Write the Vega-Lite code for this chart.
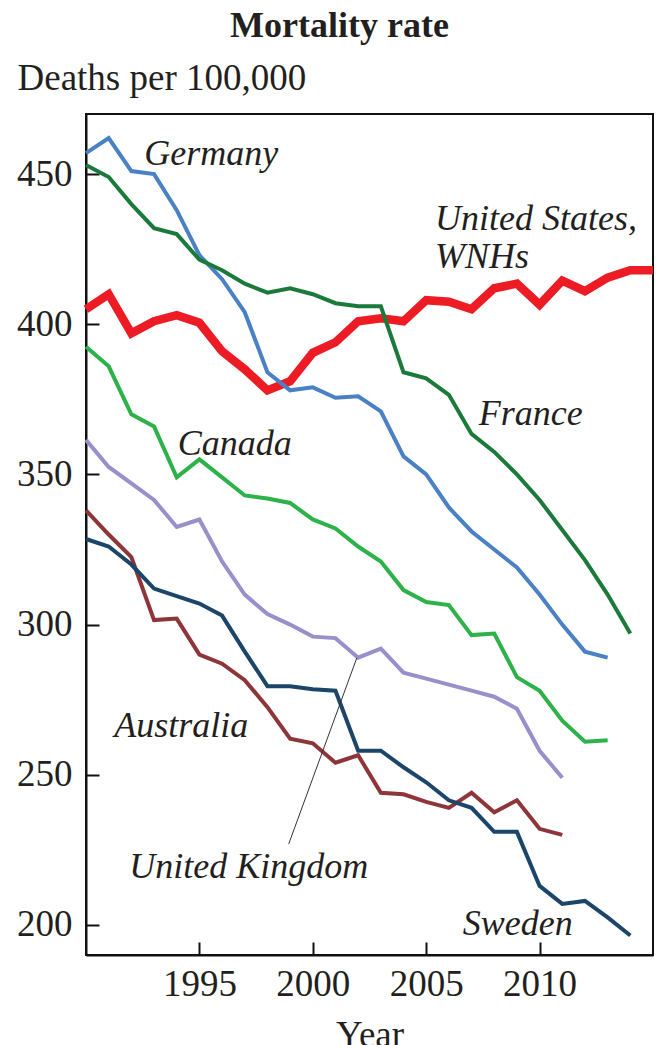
{
  "$schema": "https://vega.github.io/schema/vega-lite/v6.json",
  "width": 567,
  "height": 841,
  "autosize": {"type": "none"},
  "padding": {"left": 86, "top": 114, "right": 5, "bottom": 90},
  "background": "white",
  "config": {
    "view": {"stroke": "#111111", "strokeWidth": 2},
    "font": "Liberation Serif"
  },
  "title": {
    "text": "Mortality rate",
    "font": "Liberation Serif",
    "fontSize": 36,
    "fontWeight": "bold",
    "color": "#231f20",
    "anchor": "middle",
    "frame": "group",
    "baseline": "alphabetic",
    "offset": -14,
    "dx": -30
  },
  "datasets": {
    "series": [
      {"country": "United States", "year": 1990, "value": 405},
      {"country": "United States", "year": 1991, "value": 410},
      {"country": "United States", "year": 1992, "value": 397},
      {"country": "United States", "year": 1993, "value": 401},
      {"country": "United States", "year": 1994, "value": 403},
      {"country": "United States", "year": 1995, "value": 400.5},
      {"country": "United States", "year": 1996, "value": 391},
      {"country": "United States", "year": 1997, "value": 385},
      {"country": "United States", "year": 1998, "value": 378},
      {"country": "United States", "year": 1999, "value": 381},
      {"country": "United States", "year": 2000, "value": 390.5},
      {"country": "United States", "year": 2001, "value": 394},
      {"country": "United States", "year": 2002, "value": 401},
      {"country": "United States", "year": 2003, "value": 402},
      {"country": "United States", "year": 2004, "value": 401},
      {"country": "United States", "year": 2005, "value": 408},
      {"country": "United States", "year": 2006, "value": 407.5},
      {"country": "United States", "year": 2007, "value": 405},
      {"country": "United States", "year": 2008, "value": 412},
      {"country": "United States", "year": 2009, "value": 413.5},
      {"country": "United States", "year": 2010, "value": 406.5},
      {"country": "United States", "year": 2011, "value": 414.5},
      {"country": "United States", "year": 2012, "value": 411},
      {"country": "United States", "year": 2013, "value": 415.5},
      {"country": "United States", "year": 2014, "value": 418},
      {"country": "United States", "year": 2015, "value": 418},
      {"country": "Germany", "year": 1990, "value": 457},
      {"country": "Germany", "year": 1991, "value": 462},
      {"country": "Germany", "year": 1992, "value": 451},
      {"country": "Germany", "year": 1993, "value": 450},
      {"country": "Germany", "year": 1994, "value": 438},
      {"country": "Germany", "year": 1995, "value": 423},
      {"country": "Germany", "year": 1996, "value": 415},
      {"country": "Germany", "year": 1997, "value": 404},
      {"country": "Germany", "year": 1998, "value": 384},
      {"country": "Germany", "year": 1999, "value": 378},
      {"country": "Germany", "year": 2000, "value": 379},
      {"country": "Germany", "year": 2001, "value": 375.5},
      {"country": "Germany", "year": 2002, "value": 376},
      {"country": "Germany", "year": 2003, "value": 371},
      {"country": "Germany", "year": 2004, "value": 356},
      {"country": "Germany", "year": 2005, "value": 350},
      {"country": "Germany", "year": 2006, "value": 339},
      {"country": "Germany", "year": 2007, "value": 331},
      {"country": "Germany", "year": 2008, "value": 325},
      {"country": "Germany", "year": 2009, "value": 319},
      {"country": "Germany", "year": 2010, "value": 310},
      {"country": "Germany", "year": 2011, "value": 300},
      {"country": "Germany", "year": 2012, "value": 291},
      {"country": "Germany", "year": 2013, "value": 289},
      {"country": "France", "year": 1990, "value": 453},
      {"country": "France", "year": 1991, "value": 449},
      {"country": "France", "year": 1992, "value": 440},
      {"country": "France", "year": 1993, "value": 432},
      {"country": "France", "year": 1994, "value": 430},
      {"country": "France", "year": 1995, "value": 421.5},
      {"country": "France", "year": 1996, "value": 418},
      {"country": "France", "year": 1997, "value": 413.5},
      {"country": "France", "year": 1998, "value": 410.5},
      {"country": "France", "year": 1999, "value": 412},
      {"country": "France", "year": 2000, "value": 410},
      {"country": "France", "year": 2001, "value": 407},
      {"country": "France", "year": 2002, "value": 406},
      {"country": "France", "year": 2003, "value": 406},
      {"country": "France", "year": 2004, "value": 384},
      {"country": "France", "year": 2005, "value": 382},
      {"country": "France", "year": 2006, "value": 376.5},
      {"country": "France", "year": 2007, "value": 363.5},
      {"country": "France", "year": 2008, "value": 357.5},
      {"country": "France", "year": 2009, "value": 350},
      {"country": "France", "year": 2010, "value": 341.5},
      {"country": "France", "year": 2011, "value": 331.5},
      {"country": "France", "year": 2012, "value": 321.5},
      {"country": "France", "year": 2013, "value": 310},
      {"country": "France", "year": 2014, "value": 297},
      {"country": "Canada", "year": 1990, "value": 392.5},
      {"country": "Canada", "year": 1991, "value": 386},
      {"country": "Canada", "year": 1992, "value": 370},
      {"country": "Canada", "year": 1993, "value": 366},
      {"country": "Canada", "year": 1994, "value": 349},
      {"country": "Canada", "year": 1995, "value": 355},
      {"country": "Canada", "year": 1996, "value": 349},
      {"country": "Canada", "year": 1997, "value": 343},
      {"country": "Canada", "year": 1998, "value": 342},
      {"country": "Canada", "year": 1999, "value": 340.5},
      {"country": "Canada", "year": 2000, "value": 335},
      {"country": "Canada", "year": 2001, "value": 332},
      {"country": "Canada", "year": 2002, "value": 326},
      {"country": "Canada", "year": 2003, "value": 321},
      {"country": "Canada", "year": 2004, "value": 311.5},
      {"country": "Canada", "year": 2005, "value": 307.5},
      {"country": "Canada", "year": 2006, "value": 306.5},
      {"country": "Canada", "year": 2007, "value": 296.5},
      {"country": "Canada", "year": 2008, "value": 297},
      {"country": "Canada", "year": 2009, "value": 282.5},
      {"country": "Canada", "year": 2010, "value": 278},
      {"country": "Canada", "year": 2011, "value": 268},
      {"country": "Canada", "year": 2012, "value": 261},
      {"country": "Canada", "year": 2013, "value": 261.5},
      {"country": "United Kingdom", "year": 1990, "value": 361.5},
      {"country": "United Kingdom", "year": 1991, "value": 352.5},
      {"country": "United Kingdom", "year": 1992, "value": 347},
      {"country": "United Kingdom", "year": 1993, "value": 341.5},
      {"country": "United Kingdom", "year": 1994, "value": 332.5},
      {"country": "United Kingdom", "year": 1995, "value": 335},
      {"country": "United Kingdom", "year": 1996, "value": 321},
      {"country": "United Kingdom", "year": 1997, "value": 310},
      {"country": "United Kingdom", "year": 1998, "value": 303.5},
      {"country": "United Kingdom", "year": 1999, "value": 300},
      {"country": "United Kingdom", "year": 2000, "value": 296},
      {"country": "United Kingdom", "year": 2001, "value": 295.5},
      {"country": "United Kingdom", "year": 2002, "value": 289},
      {"country": "United Kingdom", "year": 2003, "value": 292},
      {"country": "United Kingdom", "year": 2004, "value": 284},
      {"country": "United Kingdom", "year": 2005, "value": 282},
      {"country": "United Kingdom", "year": 2006, "value": 280},
      {"country": "United Kingdom", "year": 2007, "value": 278},
      {"country": "United Kingdom", "year": 2008, "value": 276},
      {"country": "United Kingdom", "year": 2009, "value": 272},
      {"country": "United Kingdom", "year": 2010, "value": 258},
      {"country": "United Kingdom", "year": 2011, "value": 249},
      {"country": "Australia", "year": 1990, "value": 338},
      {"country": "Australia", "year": 1991, "value": 330},
      {"country": "Australia", "year": 1992, "value": 322.5},
      {"country": "Australia", "year": 1993, "value": 301.5},
      {"country": "Australia", "year": 1994, "value": 302},
      {"country": "Australia", "year": 1995, "value": 290},
      {"country": "Australia", "year": 1996, "value": 287},
      {"country": "Australia", "year": 1997, "value": 281.5},
      {"country": "Australia", "year": 1998, "value": 272.5},
      {"country": "Australia", "year": 1999, "value": 262},
      {"country": "Australia", "year": 2000, "value": 260.5},
      {"country": "Australia", "year": 2001, "value": 254},
      {"country": "Australia", "year": 2002, "value": 256.5},
      {"country": "Australia", "year": 2003, "value": 244},
      {"country": "Australia", "year": 2004, "value": 243.5},
      {"country": "Australia", "year": 2005, "value": 241},
      {"country": "Australia", "year": 2006, "value": 239},
      {"country": "Australia", "year": 2007, "value": 244},
      {"country": "Australia", "year": 2008, "value": 237.5},
      {"country": "Australia", "year": 2009, "value": 241.5},
      {"country": "Australia", "year": 2010, "value": 232},
      {"country": "Australia", "year": 2011, "value": 230},
      {"country": "Sweden", "year": 1990, "value": 328.5},
      {"country": "Sweden", "year": 1991, "value": 326},
      {"country": "Sweden", "year": 1992, "value": 320},
      {"country": "Sweden", "year": 1993, "value": 312},
      {"country": "Sweden", "year": 1994, "value": 309.5},
      {"country": "Sweden", "year": 1995, "value": 307},
      {"country": "Sweden", "year": 1996, "value": 303},
      {"country": "Sweden", "year": 1997, "value": 291},
      {"country": "Sweden", "year": 1998, "value": 279.5},
      {"country": "Sweden", "year": 1999, "value": 279.5},
      {"country": "Sweden", "year": 2000, "value": 278.5},
      {"country": "Sweden", "year": 2001, "value": 278},
      {"country": "Sweden", "year": 2002, "value": 258},
      {"country": "Sweden", "year": 2003, "value": 258},
      {"country": "Sweden", "year": 2004, "value": 252.5},
      {"country": "Sweden", "year": 2005, "value": 247.5},
      {"country": "Sweden", "year": 2006, "value": 241.5},
      {"country": "Sweden", "year": 2007, "value": 239},
      {"country": "Sweden", "year": 2008, "value": 231},
      {"country": "Sweden", "year": 2009, "value": 231},
      {"country": "Sweden", "year": 2010, "value": 213},
      {"country": "Sweden", "year": 2011, "value": 207},
      {"country": "Sweden", "year": 2012, "value": 208},
      {"country": "Sweden", "year": 2013, "value": 202.5},
      {"country": "Sweden", "year": 2014, "value": 196.5}
    ],
    "labels": [
      {"text": "Germany", "year": 1992.57, "value": 453.1},
      {"text": "United States,", "year": 2005.39, "value": 431.5},
      {"text": "WNHs", "year": 2005.39, "value": 418.7},
      {"text": "France", "year": 2007.32, "value": 366.5},
      {"text": "Canada", "year": 1994.04, "value": 356.5},
      {"text": "Australia", "year": 1991.25, "value": 262.6},
      {"text": "United Kingdom", "year": 1991.91, "value": 215.5},
      {"text": "Sweden", "year": 2006.61, "value": 196.6}
    ],
    "leader": [
      {"year": 1998.94, "value": 227, "year2": 2001.94, "value2": 288.9}
    ]
  },
  "encoding": {
    "x": {
      "field": "year",
      "type": "quantitative",
      "scale": {"domain": [1990, 2015], "nice": false, "zero": false},
      "axis": {
        "values": [1995, 2000, 2005, 2010],
        "format": "d",
        "title": "Year",
        "grid": false,
        "tickSize": -13,
        "tickWidth": 2,
        "tickColor": "#111111",
        "domainColor": "#111111",
        "domainWidth": 2,
        "labelFont": "Liberation Serif",
        "labelFontSize": 37,
        "labelColor": "#231f20",
        "labelBaseline": "alphabetic",
        "labelPadding": 53,
        "labelFlush": false,
        "titleFont": "Liberation Serif",
        "titleFontSize": 37,
        "titleFontWeight": "normal",
        "titleColor": "#231f20",
        "titleBaseline": "alphabetic",
        "titleY": 91
      }
    },
    "y": {
      "field": "value",
      "type": "quantitative",
      "scale": {"domain": [190, 470], "nice": false, "zero": false},
      "axis": {
        "values": [200, 250, 300, 350, 400, 450],
        "title": "Deaths per 100,000",
        "grid": false,
        "tickSize": -13,
        "tickWidth": 2,
        "tickColor": "#111111",
        "domainColor": "#111111",
        "domainWidth": 2,
        "labelFont": "Liberation Serif",
        "labelFontSize": 37,
        "labelColor": "#231f20",
        "labelPadding": 27,
        "titleFont": "Liberation Serif",
        "titleFontSize": 37,
        "titleFontWeight": "normal",
        "titleColor": "#231f20",
        "titleAngle": 0,
        "titleAlign": "left",
        "titleBaseline": "alphabetic",
        "titleX": -69,
        "titleY": -25
      }
    }
  },
  "layer": [
    {
      "data": {"name": "series"},
      "transform": [{"filter": "datum.country === 'United States'"}],
      "mark": {"type": "line", "strokeWidth": 8.5},
      "encoding": {
        "color": {
          "field": "country",
          "type": "nominal",
          "scale": {
            "domain": ["United States", "Germany", "France", "Canada", "United Kingdom", "Australia", "Sweden"],
            "range": ["#ed1c24", "#4a80c4", "#1b7a3b", "#2db24a", "#9a8fca", "#8e3539", "#1b4669"]
          },
          "legend": null
        }
      }
    },
    {
      "data": {"name": "series"},
      "transform": [{"filter": "datum.country !== 'United States'"}],
      "mark": {"type": "line", "strokeWidth": 4},
      "encoding": {
        "color": {"field": "country", "type": "nominal", "legend": null}
      }
    },
    {
      "data": {"name": "leader"},
      "mark": {"type": "rule", "color": "#333333", "strokeWidth": 1},
      "encoding": {
        "x2": {"field": "year2"},
        "y2": {"field": "value2"}
      }
    },
    {
      "data": {"name": "labels"},
      "mark": {
        "type": "text",
        "align": "left",
        "baseline": "alphabetic",
        "font": "Liberation Serif",
        "fontStyle": "italic",
        "fontSize": 36,
        "color": "#231f20"
      },
      "encoding": {
        "text": {"field": "text", "type": "nominal"}
      }
    }
  ]
}
